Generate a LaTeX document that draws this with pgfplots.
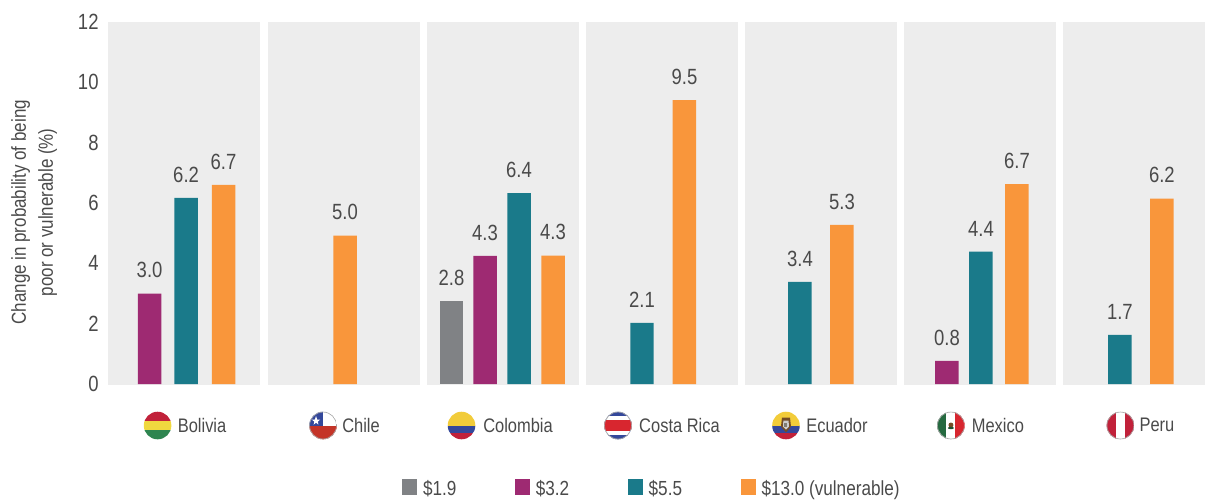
\documentclass[border=0pt]{standalone}
\usepackage{pgfplots}
\pgfplotsset{compat=1.18}
\usepackage{fontspec}
\setmainfont[FakeStretch=0.84]{Liberation Sans}
\definecolor{cgrey}{HTML}{808285}
\definecolor{cpurple}{HTML}{9E2A72}
\definecolor{cteal}{HTML}{1A7A8A}
\definecolor{corange}{HTML}{F9963B}
\definecolor{cpanel}{HTML}{EDEDED}
\definecolor{ctext}{HTML}{4A4A4A}
\definecolor{fred}{HTML}{C1213A}
\definecolor{fyellow}{HTML}{F0D83F}
\definecolor{fgreen}{HTML}{2E8550}
\definecolor{fblue}{HTML}{34489B}
\definecolor{fgold}{HTML}{F2CC3A}
\definecolor{fcred}{HTML}{C43428}
\definecolor{fbright}{HTML}{D8262F}
\definecolor{frim}{HTML}{A8A8A8}
\newcommand\flagstart[1]{\begin{scope}[shift={(#1pt,71.5pt)},x=1pt,y=1pt]\begin{scope}\clip (0,0) circle (13.8);\fill[white] (-15,-15) rectangle (15,15);}
\newcommand\flagend{\end{scope}\end{scope}}
\newcommand\rimflag{\draw[frim,line width=0.9pt] (0,0) circle (13.6);}
\begin{document}
\begin{tikzpicture}
\begin{axis}[
  scale only axis, width=1205pt, height=497pt,
  xmin=0, xmax=1205, ymin=-3.7455, ymax=12.728,
  clip=false, axis line style={draw=none},
  major tick length=0pt,
  ytick={0,2,4,6,8,10,12},
  xtick={202,361,518,679.5,837,998,1157},
  xticklabels={Bolivia,Chile,Colombia,Costa Rica,Ecuador,Mexico,Peru},
  tick label style={text=ctext},
  yticklabel style={font=\fontsize{22}{26}\selectfont,anchor=east,xshift=102pt,yshift=0pt,
     /pgf/number format/assume math mode=true},
  xticklabel style={font=\fontsize{19.6}{23}\selectfont,anchor=center,yshift=72pt},
  ylabel={Change in probability of being\\poor or vulnerable (\%)},
  every axis y label/.style={at={(axis description cs:0.0282,0.573)},rotate=90,anchor=center,align=center,
     font=\fontsize{20.2}{27}\selectfont,text=ctext},
  legend style={at={(axis cs:402,-3.47)},anchor=west,draw=none,fill=none,inner sep=0pt,outer sep=0pt,
     font=\fontsize{20.4}{23}\selectfont,text=ctext,legend columns=4,
     /tikz/every even column/.style={column sep=56.5pt},
     /tikz/every odd column/.style={column sep=4pt},
     cells={anchor=west}},
  legend cell align=left,
  legend image code/.code={\fill[#1] (0pt,-6pt) rectangle (15pt,10pt);},
  every node near coord/.append style={font=\fontsize{22}{26}\selectfont,text=ctext,yshift=12pt},
  nodes near coords={\pgfmathprintnumber[fixed,fixed zerofill,precision=1,assume math mode=true]{\pgfplotspointmeta}},
  point meta=explicit,
]
\fill[cpanel] (axis cs:108,-0.03) rectangle (axis cs:260,12);
\fill[cpanel] (axis cs:268,-0.03) rectangle (axis cs:420,12);
\fill[cpanel] (axis cs:427,-0.03) rectangle (axis cs:579,12);
\fill[cpanel] (axis cs:586,-0.03) rectangle (axis cs:738,12);
\fill[cpanel] (axis cs:745,-0.03) rectangle (axis cs:897,12);
\fill[cpanel] (axis cs:904,-0.03) rectangle (axis cs:1056,12);
\fill[cpanel] (axis cs:1063,-0.03) rectangle (axis cs:1205,12);

\addplot[ybar,bar width=23.5pt,bar shift=0pt,draw=none,fill=cgrey] coordinates {(451.5,2.75)[2.8]};
\addlegendentry{\$1.9}
\addplot[ybar,bar width=23.5pt,bar shift=0pt,draw=none,fill=cpurple] coordinates {(149.5,3.0)[3.0] (485,4.25)[4.3] (947,0.77)[0.8]};
\addlegendentry{\$3.2}
\addplot[ybar,bar width=23.5pt,bar shift=0pt,draw=none,fill=cteal] coordinates {(186,6.17)[6.2] (519,6.33)[6.4] (642,2.03)[2.1] (800,3.39)[3.4] (981,4.39)[4.4] (1120,1.63)[1.7]};
\addlegendentry{\$5.5}
\addplot[ybar,bar width=23.5pt,bar shift=0pt,draw=none,fill=corange] coordinates {(223.5,6.6)[6.7] (345,4.92)[5.0] (553,4.26)[4.3] (684.5,9.41)[9.5] (842,5.28)[5.3] (1017,6.63)[6.7] (1162,6.15)[6.2]};
\addlegendentry{\$13.0 (vulnerable)}
\end{axis}
% flags
\flagstart{157.5}
\fill[fred] (-15,4.5) rectangle (15,15);
\fill[fyellow] (-15,-4.5) rectangle (15,4.5);
\fill[fgreen] (-15,-15) rectangle (15,-4.5);
\flagend
\flagstart{323}
\fill[fcred] (-15,-15) rectangle (15,0);
\fill[fblue] (-15,0) rectangle (0,15);
\fill[white] (-7,9.5) -- (-5.8,6) -- (-3,5.8) -- (-5.2,3.9) -- (-4.6,0.9) -- (-7,2.8) -- (-9.4,0.9) -- (-8.8,3.9) -- (-11,5.8) -- (-8.2,6) -- cycle;
\rimflag
\flagend
\flagstart{461.5}
\fill[fgold] (-15,0) rectangle (15,15);
\fill[fblue] (-15,-7) rectangle (15,0);
\fill[fred] (-15,-15) rectangle (15,-7);
\flagend
\flagstart{618}
\fill[fblue] (-15,-15) rectangle (15,15);
\fill[white] (-15,-9.5) rectangle (15,9.5);
\fill[fbright] (-15,-5.5) rectangle (15,5.5);
\rimflag
\flagend
\flagstart{786}
\fill[fgold] (-15,0) rectangle (15,15);
\fill[fblue] (-15,-7) rectangle (15,0);
\fill[fred] (-15,-15) rectangle (15,-7);
\fill[brown!60!black] (-4,8) -- (4,8) -- (5,-1) -- (0,-7) -- (-5,-1) -- cycle;
\fill[gray!40] (-2.6,5) -- (2.6,5) -- (3,-1) -- (0,-4) -- (-3,-1) -- cycle;
\fill[fblue!60!fgold] (-1.5,-1) rectangle (1.5,3);
\flagend
\flagstart{951}
\fill[fgreen!80!black] (-15,-15) rectangle (-4.5,15);
\fill[fbright] (4.5,-15) rectangle (15,15);
\fill[brown!60!black] (0,0.5) circle (2.5);
\fill[fgreen!60!black] (0,-2.5) ellipse (3 and 1.2);
\rimflag
\flagend
\flagstart{1120.5}
\fill[fred] (-15,-15) rectangle (-4.5,15);
\fill[fred] (4.5,-15) rectangle (15,15);
\rimflag
\flagend
\end{tikzpicture}
\end{document}
